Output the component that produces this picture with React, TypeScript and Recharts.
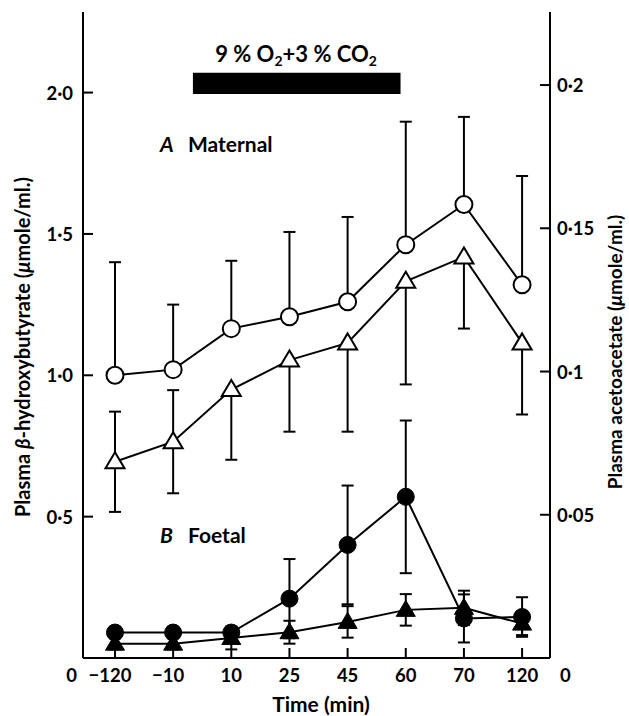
import React from 'react';
import { ComposedChart, Line, XAxis, YAxis, ErrorBar, ReferenceArea } from 'recharts';

// Sampling times (min)
const timeLabels = ['−120', '−10', '10', '25', '45', '60', '70', '120'];

// A  Maternal: plasma β-hydroxybutyrate (left axis) and acetoacetate (right axis)
const maternalHB = [1.0, 1.02, 1.165, 1.207, 1.26, 1.462, 1.604, 1.32];
const maternalHBErrUp = [0.40, 0.23, 0.24, 0.3, 0.3, 0.435, 0.31, 0.385];
const maternalAA = [0.0685, 0.0755, 0.0937, 0.104, 0.11, 0.1315, 0.14, 0.11];
const maternalAAErrDown = [0.0175, 0.018, 0.0245, 0.025, 0.031, 0.036, 0.025, 0.025];
const maternalAAErrUp = [0.0175, 0.018, 0, 0, 0, 0, 0, 0];

// B  Foetal
const foetalHB = [0.09, 0.09, 0.09, 0.21, 0.4, 0.57, 0.14, 0.145];
const foetalHBErr = [0.02, 0.02, 0.02, 0.14, 0.21, 0.27, 0.085, 0.07];
const foetalAA = [0.005, 0.005, 0.007, 0.009, 0.0126, 0.0168, 0.0175, 0.012];
const foetalAAErr = [0.002, 0.002, 0.004, 0.004, 0.0055, 0.0055, 0.006, 0.004];

// Gas mixture period, in time-index units and left-axis units
const gasPeriod = { x1: 1.34, x2: 4.91, y1: 1.995, y2: 2.07 };

const leftTicks = [0, 0.5, 1.0, 1.5, 2.0];
const rightTicks = [0, 0.05, 0.1, 0.15, 0.2];

const data = timeLabels.map((t, i) => ({
  i,
  mHB: maternalHB[i],
  mHBErr: [0, maternalHBErrUp[i]],
  mAA: maternalAA[i],
  mAAErr: [maternalAAErrDown[i], maternalAAErrUp[i]],
  fHB: foetalHB[i],
  fHBErr: foetalHBErr[i],
  fAA: foetalAA[i],
  fAAErr: foetalAAErr[i],
}));

const FONT = 'Lato, "Open Sans", sans-serif';
const INK = '#000';
const TICK_FS = 18.5;
const CAP = 6; // half-width of error-bar caps

const fmtDot = (v: number) => {
  if (v === 0) return '0';
  const s = v >= 1 ? v.toFixed(1) : String(v);
  return s.replace('.', '·');
};

const OpenCircle = (p: any) => (
  <circle key={`oc${p.index}`} cx={p.cx} cy={p.cy} r={8.5} fill="#fff" stroke={INK} strokeWidth={2} />
);
const FilledCircle = (p: any) => (
  <circle key={`fc${p.index}`} cx={p.cx} cy={p.cy} r={8.5} fill={INK} stroke={INK} strokeWidth={1} />
);
const triPts = (cx: number, cy: number) =>
  `${cx},${cy - 9.5} ${cx - 9.5},${cy + 6.5} ${cx + 9.5},${cy + 6.5}`;
const OpenTriangle = (p: any) => (
  <polygon key={`ot${p.index}`} points={triPts(p.cx, p.cy)} fill="#fff" stroke={INK} strokeWidth={2} strokeLinejoin="miter" />
);
const FilledTriangle = (p: any) => (
  <polygon key={`ft${p.index}`} points={triPts(p.cx, p.cy)} fill={INK} stroke={INK} strokeWidth={1} />
);

const XTick = (p: any) => {
  const { x, y, payload } = p;
  const label = timeLabels[payload.value] ?? '';
  const neg = label.startsWith('−');
  return (
    <g>
      <line x1={x} x2={x} y1={y} y2={y - 10} stroke={INK} strokeWidth={2} />
      <text x={x + (neg ? -5 : 0)} y={y + 24} textAnchor="middle" fontFamily={FONT} fontWeight={700} fontSize={TICK_FS} fill={INK}>
        {label}
      </text>
    </g>
  );
};

const LeftTick = (p: any) => {
  const { x, y, payload } = p;
  const v = payload.value;
  if (v === 0) {
    return (
      <text x={x - 6} y={y + 24} textAnchor="end" fontFamily={FONT} fontWeight={700} fontSize={TICK_FS} fill={INK}>0</text>
    );
  }
  return (
    <g>
      <line x1={x} x2={x + 10} y1={y} y2={y} stroke={INK} strokeWidth={2} />
      <text x={x - 10} y={y + 7} textAnchor="end" fontFamily={FONT} fontWeight={700} fontSize={TICK_FS} fill={INK}>
        {fmtDot(v)}
      </text>
    </g>
  );
};

const RightTick = (p: any) => {
  const { x, y, payload } = p;
  const v = payload.value;
  if (v === 0) {
    return (
      <text x={x + 10} y={y + 24} textAnchor="start" fontFamily={FONT} fontWeight={700} fontSize={TICK_FS} fill={INK}>0</text>
    );
  }
  return (
    <g>
      <line x1={x} x2={x - 10} y1={y} y2={y} stroke={INK} strokeWidth={2} />
      <text x={x + 7} y={y + 7} textAnchor="start" fontFamily={FONT} fontWeight={700} fontSize={TICK_FS} fill={INK}>
        {fmtDot(v)}
      </text>
    </g>
  );
};

export default function App() {
  const W = 629;
  const H = 716;
  return (
    <div style={{ position: 'absolute', left: 0, top: 0, width: W, height: H, background: '#fff' }}>
      <ComposedChart width={W} height={H} data={data} margin={{ top: 12, right: 19, bottom: 28, left: 23 }}>
        <XAxis
          xAxisId="top"
          orientation="top"
          type="number"
          dataKey="i"
          domain={[-0.55, 7.48]}
          height={0}
          tick={false}
          tickLine={false}
          axisLine={{ stroke: INK, strokeWidth: 2 }}
        />
        <XAxis
          xAxisId="bottom"
          type="number"
          dataKey="i"
          domain={[-0.55, 7.48]}
          ticks={[0, 1, 2, 3, 4, 5, 6, 7]}
          height={30}
          tickSize={0}
          tickMargin={0}
          tickLine={false}
          tick={XTick}
          axisLine={{ stroke: INK, strokeWidth: 2 }}
        />
        <YAxis
          yAxisId="left"
          type="number"
          domain={[0, 2.285]}
          ticks={leftTicks}
          width={60}
          tickSize={0}
          tickMargin={0}
          tickLine={false}
          tick={LeftTick}
          axisLine={{ stroke: INK, strokeWidth: 2 }}
        />
        <YAxis
          yAxisId="right"
          orientation="right"
          type="number"
          domain={[0, 0.2255]}
          ticks={rightTicks}
          width={60}
          tickSize={0}
          tickMargin={0}
          tickLine={false}
          tick={RightTick}
          axisLine={{ stroke: INK, strokeWidth: 2 }}
        />
        <ReferenceArea
          xAxisId="bottom"
          yAxisId="left"
          x1={gasPeriod.x1}
          x2={gasPeriod.x2}
          y1={gasPeriod.y1}
          y2={gasPeriod.y2}
          fill={INK}
          fillOpacity={1}
          stroke="none"
        />
        <Line xAxisId="bottom" yAxisId="right" dataKey="mAA" type="linear" stroke={INK} strokeWidth={2} dot={OpenTriangle} isAnimationActive={false}>
          <ErrorBar dataKey="mAAErr" direction="y" width={CAP} stroke={INK} strokeWidth={2} />
        </Line>
        <Line xAxisId="bottom" yAxisId="left" dataKey="mHB" type="linear" stroke={INK} strokeWidth={2} dot={OpenCircle} isAnimationActive={false}>
          <ErrorBar dataKey="mHBErr" direction="y" width={CAP} stroke={INK} strokeWidth={2} />
        </Line>
        <Line xAxisId="bottom" yAxisId="right" dataKey="fAA" type="linear" stroke={INK} strokeWidth={2} dot={FilledTriangle} isAnimationActive={false}>
          <ErrorBar dataKey="fAAErr" direction="y" width={CAP} stroke={INK} strokeWidth={2} />
        </Line>
        <Line xAxisId="bottom" yAxisId="left" dataKey="fHB" type="linear" stroke={INK} strokeWidth={2} dot={FilledCircle} isAnimationActive={false}>
          <ErrorBar dataKey="fHBErr" direction="y" width={CAP} stroke={INK} strokeWidth={2} />
        </Line>
      </ComposedChart>
      <svg width={W} height={H} style={{ position: 'absolute', left: 0, top: 0, pointerEvents: 'none' }}>
        <g fontFamily={FONT} fontWeight={700} fill={INK}>
          <text x={296} y={62} fontSize={22} textAnchor="middle">
            9 % O<tspan fontSize={14} dy={4}>2</tspan>
            <tspan dy={-4}>+3 % CO</tspan>
            <tspan fontSize={14} dy={4}>2</tspan>
          </text>
          <text x={160} y={152} fontSize={21}>
            <tspan fontStyle="italic">A</tspan>
            <tspan x={188}>Maternal</tspan>
          </text>
          <text x={160} y={543} fontSize={21}>
            <tspan fontStyle="italic">B</tspan>
            <tspan x={188}>Foetal</tspan>
          </text>
          <text x={321} y={712} fontSize={21} textAnchor="middle">Time (min)</text>
          <text
            transform="translate(30 347) rotate(-90)"
            fontSize={20}
            textAnchor="middle"
          >
            Plasma <tspan fontStyle="italic">β</tspan>-hydroxybutyrate (<tspan fontStyle="italic">μ</tspan>mole/ml.)
          </text>
          <text
            transform="translate(622 352) rotate(-90)"
            fontSize={19}
            textAnchor="middle"
          >
            Plasma acetoacetate (<tspan fontStyle="italic">μ</tspan>mole/ml.)
          </text>
        </g>
      </svg>
    </div>
  );
}
